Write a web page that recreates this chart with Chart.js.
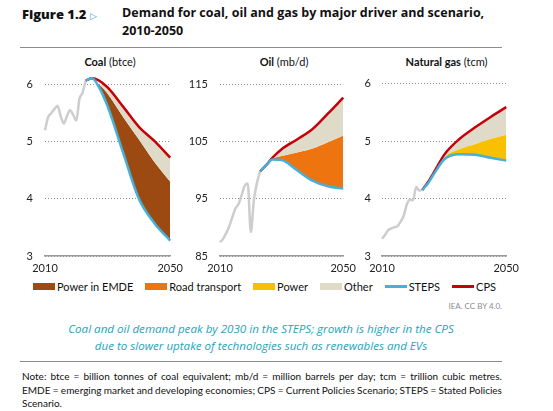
<!DOCTYPE html>
<html>
<head>
<meta charset="utf-8">
<script src="https://cdn.jsdelivr.net/npm/chart.js@4.4.0/dist/chart.umd.min.js"></script>
<style>
  body { margin: 0; background: #fff; width: 553px; height: 411px; position: relative; overflow: hidden; font-family: Lato, sans-serif; color: #111; }
  .abs { position: absolute; }
  canvas { position: absolute; }
  .ptitle { position: absolute; top: 55px; font-size: 11px; line-height: 14px; text-align: center; color: #111; }
  #legend { position: absolute; left: 33px; top: 279px; height: 14px; display: flex; align-items: center; font-size: 11px; color: #111; }
  #legend .item { display: flex; align-items: center; margin-right: 12px; }
  #legend .sw { width: 22px; height: 7px; margin-right: 2px; }
  #legend .ln { width: 22px; height: 3px; margin-right: 2px; }
  .note { position: absolute; left: 22px; width: 480px; font-size: 10px; line-height: 13.5px; color: #111; }
  .note .row { display: flex; justify-content: space-between; white-space: nowrap; }
</style>
</head>
<body>

<div class="abs" style="left:22px;top:5px;font:800 13px/18px 'Open Sans';">Figure 1.2 <span style="color:#3aa7c6;font-size:9px;font-weight:400">&#9655;</span></div>
<div class="abs" style="left:122px;top:4px;font:700 12.5px/18px 'Open Sans';">Demand for coal, oil and gas by major driver and scenario,<br>2010-2050</div>
<div class="abs" style="left:20px;top:47px;width:482px;height:1px;background:#8c8c8c"></div>

<div class="ptitle" style="left:45px;width:130px"><b>Coal</b> (btce)</div>
<div class="ptitle" style="left:220px;width:128px"><b>Oil</b> (mb/d)</div>
<div class="ptitle" style="left:382px;width:129px"><b>Natural gas</b> (tcm)</div>

<canvas id="coal" width="174" height="212" style="left:15px;top:66px"></canvas>
<canvas id="oil" width="176" height="212" style="left:186px;top:66px"></canvas>
<canvas id="gas" width="173" height="212" style="left:352px;top:66px"></canvas>

<div id="legend"></div>
<div class="abs" style="right:51px;top:301px;font-size:8px;color:#8c8c8c">IEA. CC BY 4.0.</div>

<div class="abs" style="left:20px;top:320px;width:482px;text-align:center;font:italic 11.6px/17.4px 'Open Sans';color:#1fa3b9">
  Coal and oil demand peak by 2030 in the STEPS; growth is higher in the CPS<br>
  due to slower uptake of technologies such as renewables and EVs
</div>
<div class="abs" style="left:20px;top:361px;width:482px;height:1px;background:#8c8c8c"></div>
<div class="note" id="notes" style="top:370px"></div>

<script>
// historical years and scenario years
const histYears = [2010, 2011, 2012, 2013, 2014, 2015, 2016, 2017, 2018, 2019, 2020, 2021, 2022, 2023];
const scenYears = [2023, 2025, 2027, 2030, 2035, 2040, 2045, 2050];

// coal (btce)
const coalHist = [5.20, 5.43, 5.50, 5.57, 5.63, 5.45, 5.32, 5.45, 5.55, 5.47, 5.37, 5.75, 5.86, 6.07];
const coalSteps = [6.07, 6.11, 5.98, 5.62, 4.80, 4.00, 3.57, 3.27];
const coalCps = [6.07, 6.11, 6.08, 5.95, 5.61, 5.26, 5.01, 4.72];
const coalPowerEmde = [0, 0, 0.04, 0.22, 0.63, 1.04, 1.07, 1.03];

// oil (mb/d)
const oilHist = [87.4, 88.0, 89.0, 90.2, 91.8, 93.3, 94.1, 95.6, 97.3, 97.7, 89.2, 94.8, 97.8, 99.8];
const oilSteps = [99.8, 100.9, 101.9, 101.8, 100.0, 98.2, 97.2, 96.8];
const oilCps = [99.8, 100.9, 102.2, 103.7, 105.4, 107.2, 109.9, 112.7];
const oilRoadTransport = [0, 0, 0.1, 0.7, 3.1, 5.6, 7.7, 9.3];

// natural gas (tcm)
const gasHist = [3.30, 3.37, 3.45, 3.48, 3.50, 3.52, 3.60, 3.70, 3.90, 3.98, 3.97, 4.20, 4.14, 4.15];
const gasSteps = [4.15, 4.28, 4.45, 4.68, 4.77, 4.76, 4.71, 4.66];
const gasCps = [4.15, 4.30, 4.48, 4.76, 5.04, 5.24, 5.42, 5.59];
const gasPower = [0, 0, 0, 0.03, 0.09, 0.19, 0.33, 0.45];

const legendLabels = ['Power in EMDE', 'Road transport', 'Power', 'Other', 'STEPS', 'CPS'];
const noteLines = [
  'Note: btce = billion tonnes of coal equivalent; mb/d = million barrels per day; tcm = trillion cubic metres.',
  'EMDE = emerging market and developing economies; CPS = Current Policies Scenario; STEPS = Stated Policies',
  'Scenario.'
];

const colors = {
  emde: '#9c4a12', road: '#ee7410', power: '#f8c000', other: '#e0dbc8',
  steps: '#45b0d8', cps: '#c6000a', hist: '#cdcdcd'
};

function pts(xs, ys) {
  return xs.map((x, i) => ({ x: x, y: ys[i] }));
}

function makePanel(id, hist, steps, cps, wedge, wedgeColor, yMin, yMax, yStep, yWidth, yPad) {
  const top = steps.map((v, i) => +(v + wedge[i]).toFixed(3));
  const line = { pointRadius: 0, cubicInterpolationMode: 'monotone', clip: false };
  new Chart(document.getElementById(id), {
    type: 'line',
    data: {
      datasets: [
        Object.assign({ label: 'STEPS', data: pts(scenYears, steps), borderColor: colors.steps, borderWidth: 2.5, fill: false }, line),
        Object.assign({ label: 'CPS', data: pts(scenYears, cps), borderColor: colors.cps, borderWidth: 2.5, fill: 3, backgroundColor: colors.other }, line),
        Object.assign({ label: 'hist', data: pts(histYears, hist), borderColor: colors.hist, borderWidth: 2.5, fill: false }, line),
        Object.assign({ label: 'wedge', data: pts(scenYears, top), borderColor: 'rgba(0,0,0,0)', borderWidth: 0, fill: 0, backgroundColor: wedgeColor }, line)
      ]
    },
    options: {
      responsive: false,
      animation: false,
      layout: { padding: { top: 12, right: 14, left: 0, bottom: 0 } },
      plugins: { legend: { display: false }, tooltip: { enabled: false } },
      scales: {
        x: {
          type: 'linear', min: 2010, max: 2050,
          afterBuildTicks: s => { s.ticks = [{ value: 2010 }, { value: 2050 }]; },
          afterFit: s => { s.height = 22; },
          grid: { display: false, drawTicks: false },
          border: { display: true, color: '#9a9a9a', width: 1.5 },
          ticks: { padding: 6, color: '#222', font: { family: 'Lato', size: 11 }, callback: v => String(v) }
        },
        y: {
          min: yMin, max: yMax,
          afterFit: s => { s.width = yWidth; },
          grid: { color: '#8a8a8a', drawTicks: false, lineWidth: 1 },
          border: { display: false, dash: [1, 2] },
          ticks: { stepSize: yStep, padding: yPad, color: '#222', font: { family: 'Lato', size: 11 } }
        }
      }
    }
  });
}

makePanel('coal', coalHist, coalSteps, coalCps, coalPowerEmde, colors.emde, 3, 6, 1, 30, 12);
makePanel('oil', oilHist, oilSteps, oilCps, oilRoadTransport, colors.road, 85, 115, 10, 34, 12);
makePanel('gas', gasHist, gasSteps, gasCps, gasPower, colors.power, 3, 6, 1, 30, 11);

// legend
const legendColors = [colors.emde, colors.road, colors.power, colors.other, colors.steps, colors.cps];
const legend = document.getElementById('legend');
legendLabels.forEach((lab, i) => {
  const item = document.createElement('div');
  item.className = 'item';
  const sw = document.createElement('span');
  sw.className = i < 4 ? 'sw' : 'ln';
  sw.style.background = legendColors[i];
  item.appendChild(sw);
  item.appendChild(document.createTextNode(lab));
  legend.appendChild(item);
});

// note lines, spread to full width like justified text
const notes = document.getElementById('notes');
noteLines.forEach((txt, i) => {
  const row = document.createElement('div');
  row.className = 'row';
  if (i === noteLines.length - 1) row.style.justifyContent = 'flex-start';
  txt.split(' ').forEach((w, j) => {
    const s = document.createElement('span');
    s.textContent = w;
    if (i === noteLines.length - 1 && j > 0) s.style.marginLeft = '3px';
    row.appendChild(s);
  });
  notes.appendChild(row);
});
</script>
</body>
</html>
